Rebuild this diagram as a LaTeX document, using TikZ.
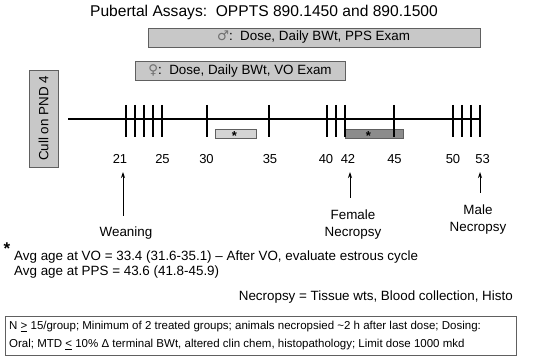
\documentclass[tikz,border=0pt]{standalone}
\usepackage{fontspec}
\setmainfont{Liberation Sans}
\newfontfamily\symfont{DejaVu Sans}
\usetikzlibrary{arrows.meta}
\definecolor{boxfill}{HTML}{C8C8C8}
\definecolor{boxline}{HTML}{606060}
\definecolor{lightstar}{HTML}{D4D4D4}
\definecolor{darkstar}{HTML}{8C8C8C}
\definecolor{symgray}{HTML}{707070}
\begin{document}
\begin{tikzpicture}[x=1pt,y=-1pt,
  graybox/.style={draw=boxline,fill=boxfill,line width=0.8pt,inner sep=0pt},
  tick/.style={line width=2pt},
  daylbl/.style={font=\fontsize{13}{15}\selectfont,inner sep=0pt},
  uparrow/.style={-{Stealth[length=6pt,width=4pt]},line width=0.9pt},
  txt/.style={inner sep=0pt,font=\fontsize{13.4}{16}\selectfont}]
\useasboundingbox (0,0) rectangle (550,358);
% title
\node[inner sep=0pt,font=\fontsize{15.6}{18}\selectfont] (title) at (264,12) {Pubertal Assays:\ \ OPPTS 890.1450 and 890.1500};
% dosing boxes
\draw[graybox] (148,28) rectangle (480,47);
\node[txt] (male) at (313.5,37.5) {{\symfont\color{symgray}♂}:\ \ Dose, Daily BWt, PPS Exam};
\draw[graybox] (135,61) rectangle (345,80);
\node[txt] (female) at (240,70.5) {{\symfont\color{symgray}♀}:\ \ Dose, Daily BWt, VO Exam};
% cull box
\draw[graybox] (29,70) rectangle (58,167);
\node[txt,rotate=90] (cull) at (43.5,118.5) {Cull on PND 4};
% timeline
\coordinate (tl0) at (68,119.3);
\coordinate (tl1) at (480,119.3);
\draw[line width=1.6pt] (tl0) -- (tl1);
% star boxes
\draw[draw=boxline,fill=lightstar,line width=0.6pt] (215.7,129) rectangle (256,138.3);
\node[inner sep=0pt,font=\fontsize{13}{13}\selectfont\bfseries] (s1) at (234.5,136) {*};
\draw[draw=boxline,fill=darkstar,line width=0.6pt] (345.7,129) rectangle (403.3,138.3);
\node[inner sep=0pt,font=\fontsize{13}{13}\selectfont\bfseries] (s2) at (368.5,136) {*};
\foreach \x in {126,135,144,153,162,206.7,269.3,327.3,336,345,394.3,452.7,461.7,470.7,479.5}
  \draw[tick] (\x,105) -- (\x,137);
% day labels
\node[daylbl] (d21) at (120,159) {21};
\node[daylbl] (d25) at (162.5,159) {25};
\node[daylbl] (d30) at (206.5,159) {30};
\node[daylbl] (d35) at (270,159) {35};
\node[daylbl] (d40) at (326,159) {40};
\node[daylbl] (d42) at (348,159) {42};
\node[daylbl] (d45) at (394.5,159) {45};
\node[daylbl] (d50) at (453,159) {50};
\node[daylbl] (d53) at (482.5,159) {53};
% event labels
\node[txt] (wean) at (126,232.7) {Weaning};
\node[txt,align=center,font=\fontsize{13.4}{17}\selectfont] (fnec) at (353,224.2) {Female\\Necropsy};
\node[txt,align=center,font=\fontsize{13.4}{17}\selectfont] (mnec) at (478,219.2) {Male\\Necropsy};
\coordinate (a21) at (123,216);
\coordinate (t21) at (123,172);
\coordinate (a42) at (350,198);
\coordinate (t42) at (350,172);
\coordinate (a53) at (480,193);
\coordinate (t53) at (480,172);
\draw[uparrow] (a21) -- (t21);
\draw[uparrow] (a42) -- (t42);
\draw[uparrow] (a53) -- (t53);
% footnotes
\node[inner sep=0pt,font=\fontsize{17}{17}\selectfont\bfseries] (fstar) at (7,249) {*};
\node[txt,anchor=west] (avg1) at (14,256.7) {Avg age at VO = 33.4 (31.6-35.1) – After VO, evaluate estrous cycle};
\node[txt,anchor=west] (avg2) at (14,271.7) {Avg age at PPS = 43.6 (41.8-45.9)};
\node[txt,anchor=east] (necdef) at (513,297.3) {Necropsy = Tissue wts, Blood collection, Histo};
% bottom box
\draw[draw=boxline,line width=0.8pt] (5,316) rectangle (516,355);
\node[inner sep=0pt,anchor=west,font=\fontsize{11.5}{13}\selectfont] (n1) at (9,326.7) {N \underline{>} 15/group; Minimum of 2 treated groups; animals necropsied \textasciitilde2 h after last dose; Dosing:};
\node[inner sep=0pt,anchor=west,font=\fontsize{11.5}{13}\selectfont] (n2) at (9,345) {Oral; MTD \underline{<} 10\% Δ terminal BWt, altered clin chem, histopathology; Limit dose 1000 mkd};
\end{tikzpicture}
\end{document}
